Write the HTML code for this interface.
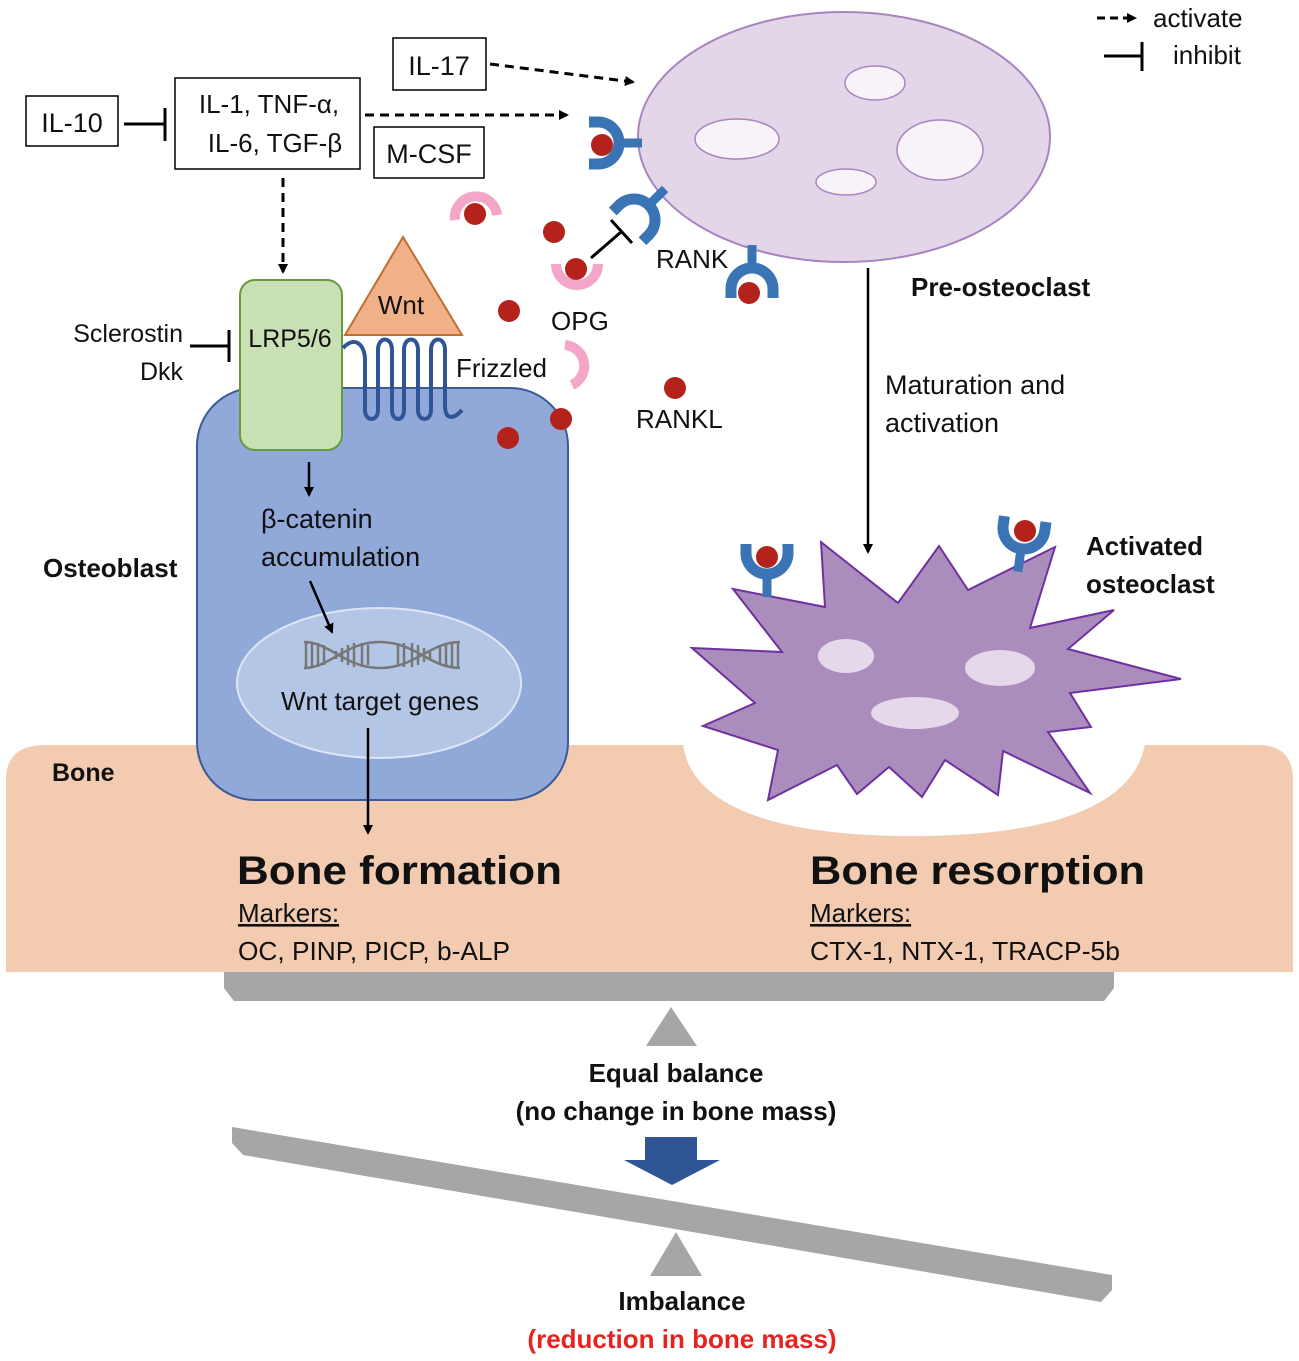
<!DOCTYPE html>
<html><head><meta charset="utf-8"><style>
html,body{margin:0;padding:0;background:#fff;}
svg{display:block;}
text{font-family:"Liberation Sans",sans-serif;fill:#111;}
</style></head><body>
<svg width="1299" height="1361" viewBox="0 0 1299 1361" xmlns="http://www.w3.org/2000/svg">
<defs>
<marker id="ah" markerWidth="10" markerHeight="10" refX="8" refY="5" orient="auto" markerUnits="userSpaceOnUse">
<path d="M0,0 L10,5 L0,10 z" fill="#000"/></marker>
<g id="rec">
<path d="M-21,-9 L-21,0 A21,21 0 0 0 21,0 L21,-9" fill="none" stroke="#3b74b5" stroke-width="11"/>
<line x1="0" y1="20" x2="0" y2="44" stroke="#3b74b5" stroke-width="9"/>
</g>
</defs>

<!-- Bone -->
<path d="M6,972 L6,780 Q6,745 45,745 L1258,745 Q1293,745 1293,780 L1293,972 Z" fill="#f2cbb0"/>
<path d="M683,744 C690,800 760,836 912,836 C1065,836 1135,800 1145,744 Z" fill="#fff"/>

<!-- Osteoblast -->
<rect x="197" y="388" width="371" height="412" rx="58" fill="#91a9d8" stroke="#3a5a9a" stroke-width="2"/>
<ellipse cx="379" cy="683" rx="142" ry="75" fill="#b4c6e6" stroke="#dde6f4" stroke-width="2"/>
<!-- DNA -->
<g stroke="#777" stroke-width="2.5" fill="none">
<path d="M304,642 C330,642 345,668 380,668 C415,668 430,642 460,642"/>
<path d="M304,668 C330,668 345,642 380,642 C415,642 430,668 460,668"/>
<path d="M306,642v26M312,642v26M318,643v24M324,645v20M336,651v8M342,648v14M348,645v20M354,643v24M412,643v24M418,645v20M424,648v14M430,651v8M440,645v20M446,643v24M452,642v26M458,642v26M362,643v24M368,645v20M398,645v20M404,643v24"/>
</g>

<!-- LRP -->
<rect x="240" y="280" width="102" height="170" rx="15" fill="#c9e0b4" stroke="#6a9a40" stroke-width="2"/>
<!-- Wnt -->
<polygon points="403,237 345,335 462,335" fill="#f0b088" stroke="#c07030" stroke-width="2"/>
<!-- Frizzled -->
<path d="M343,348 C355,335 365,345 365,360 L365,410 C365,422 378,422 378,410 L378,350 C378,336 392,336 392,350 L392,410 C392,422 404,422 404,410 L404,350 C404,336 418,336 418,350 L418,410 C418,422 431,422 431,410 L431,350 C431,336 445,336 445,350 L445,405 C445,422 455,418 462,410" fill="none" stroke="#2f5597" stroke-width="4"/>

<!-- Pre-osteoclast -->
<ellipse cx="844" cy="137" rx="206" ry="125" fill="#e2d6e8" stroke="#a884c0" stroke-width="2"/>
<g fill="#f7f3f8" stroke="#a884c0" stroke-width="1.5">
<ellipse cx="875" cy="83" rx="30" ry="17"/>
<ellipse cx="737" cy="139" rx="42" ry="20"/>
<ellipse cx="940" cy="150" rx="43" ry="30"/>
<ellipse cx="846" cy="182" rx="30" ry="13"/>
</g>

<!-- Activated osteoclast -->
<polygon points="733,589 825,607 821,542 898,603 939,546 968,590 1055,547 1030,628 1114,610 1068,649 1181,679 1070,693 1091,727 1048,732 1090,793 1003,751 998,795 945,760 922,797 889,767 857,794 837,765 768,800 778,750 703,726 755,703 692,648 782,652" fill="#aa8dbd" stroke="#7030a0" stroke-width="2"/>
<g fill="#e4d8ea">
<ellipse cx="846" cy="656" rx="28" ry="17"/>
<ellipse cx="1000" cy="668" rx="35" ry="18"/>
<ellipse cx="915" cy="713" rx="44" ry="16"/>
</g>

<!-- receptors -->
<g transform="translate(598,143) rotate(-90)"><use href="#rec"/></g>
<circle cx="602" cy="145" r="11" fill="#b3221b"/>
<g transform="translate(634,220) rotate(-135)"><use href="#rec"/></g>
<g transform="translate(752,289) rotate(180)"><use href="#rec"/></g>
<circle cx="749" cy="293" r="11" fill="#b3221b"/>
<g transform="translate(767,553)"><use href="#rec"/></g>
<circle cx="767" cy="557" r="11" fill="#b3221b"/>
<g transform="translate(1024,528) rotate(8)"><use href="#rec"/></g>
<circle cx="1025" cy="531" r="11" fill="#b3221b"/>

<!-- OPG pinks -->
<g fill="none" stroke="#f4a6c8" stroke-width="10">
<path d="M455,220 A21,21 0 0 1 497,215"/>
<path d="M556,264 A21,21 0 0 0 598,264"/>
<path d="M565,345 A21,21 0 0 1 572,385"/>
</g>
<g fill="#b3221b">
<circle cx="475" cy="214" r="11"/>
<circle cx="554" cy="232" r="11"/>
<circle cx="576" cy="269" r="11"/>
<circle cx="509" cy="311" r="11"/>
<circle cx="675" cy="388" r="11"/>
<circle cx="561" cy="419" r="11"/>
<circle cx="508" cy="438" r="11"/>
</g>

<!-- inhibit OPG -> RANK -->
<line x1="591" y1="258" x2="621" y2="232" stroke="#000" stroke-width="3"/>
<line x1="611" y1="220" x2="632" y2="243" stroke="#000" stroke-width="3"/>

<!-- Boxes -->
<g fill="#fff" stroke="#000" stroke-width="1.5">
<rect x="26" y="96" width="92" height="50"/>
<rect x="175" y="78" width="185" height="91"/>
<rect x="393" y="38" width="93" height="52"/>
<rect x="374" y="127" width="110" height="51"/>
</g>
<text x="72" y="132" font-size="27" text-anchor="middle">IL-10</text>
<text x="269" y="113" font-size="26" text-anchor="middle">IL-1, TNF-α,</text>
<text x="275" y="152" font-size="26" text-anchor="middle">IL-6, TGF-β</text>
<text x="439" y="75" font-size="27" text-anchor="middle">IL-17</text>
<text x="429" y="163" font-size="27" text-anchor="middle">M-CSF</text>

<!-- inhibit IL-10 -->
<line x1="124" y1="124" x2="164" y2="124" stroke="#000" stroke-width="3"/>
<line x1="165" y1="108" x2="165" y2="141" stroke="#000" stroke-width="3"/>
<!-- dashed arrows -->
<g stroke="#000" stroke-width="3" stroke-dasharray="9,6" fill="none" marker-end="url(#ah)">
<line x1="365" y1="115" x2="567" y2="115"/>
<line x1="490" y1="64" x2="633" y2="82"/>
<line x1="283" y1="178" x2="283" y2="272"/>
</g>

<!-- Sclerostin inhibit -->
<line x1="190" y1="346" x2="228" y2="346" stroke="#000" stroke-width="3"/>
<line x1="229" y1="330" x2="229" y2="362" stroke="#000" stroke-width="3"/>

<!-- solid arrows -->
<g stroke="#000" stroke-width="2.5" marker-end="url(#ah)">
<line x1="309" y1="462" x2="309" y2="495"/>
<line x1="310" y1="581" x2="332" y2="632"/>
<line x1="368" y1="728" x2="368" y2="833"/>
<line x1="868" y1="268" x2="868" y2="552"/>
</g>

<!-- legend -->
<g stroke="#000" stroke-width="3">
<line x1="1097" y1="18" x2="1135" y2="18" stroke-dasharray="8,5" marker-end="url(#ah)"/>
<line x1="1104" y1="56" x2="1141" y2="56"/>
<line x1="1142" y1="42" x2="1142" y2="71"/>
</g>
<text x="1153" y="27" font-size="26">activate</text>
<text x="1173" y="64" font-size="26">inhibit</text>

<!-- labels -->
<text x="401" y="314" font-size="26" text-anchor="middle">Wnt</text>
<text x="290" y="347" font-size="25" text-anchor="middle">LRP5/6</text>
<text x="183" y="342" font-size="25" text-anchor="end">Sclerostin</text>
<text x="183" y="380" font-size="25" text-anchor="end">Dkk</text>
<text x="456" y="377" font-size="26">Frizzled</text>
<text x="551" y="330" font-size="26">OPG</text>
<text x="656" y="268" font-size="26">RANK</text>
<text x="636" y="428" font-size="26">RANKL</text>
<text x="911" y="296" font-size="26" font-weight="bold">Pre-osteoclast</text>
<text x="885" y="394" font-size="27">Maturation and</text>
<text x="885" y="432" font-size="27">activation</text>
<text x="1086" y="555" font-size="26" font-weight="bold">Activated</text>
<text x="1086" y="593" font-size="26" font-weight="bold">osteoclast</text>
<text x="43" y="577" font-size="26" font-weight="bold">Osteoblast</text>
<text x="261" y="528" font-size="27">β-catenin</text>
<text x="261" y="566" font-size="27">accumulation</text>
<text x="380" y="710" font-size="26" text-anchor="middle">Wnt target genes</text>
<text x="52" y="781" font-size="25" font-weight="bold">Bone</text>

<text x="237" y="884" font-size="40" font-weight="bold" textLength="325" lengthAdjust="spacingAndGlyphs">Bone formation</text>
<text x="238" y="922" font-size="26" text-decoration="underline">Markers:</text>
<text x="238" y="960" font-size="26" textLength="272" lengthAdjust="spacingAndGlyphs">OC, PINP, PICP, b-ALP</text>
<text x="810" y="884" font-size="40" font-weight="bold" textLength="335" lengthAdjust="spacingAndGlyphs">Bone resorption</text>
<text x="810" y="922" font-size="26" text-decoration="underline">Markers:</text>
<text x="810" y="960" font-size="26" textLength="310" lengthAdjust="spacingAndGlyphs">CTX-1, NTX-1, TRACP-5b</text>

<!-- seesaw top -->
<polygon points="224,972 1114,972 1114,988 1104,1001 234,1001 224,988" fill="#a6a6a6"/>
<polygon points="671,1007 646,1046 697,1046" fill="#a6a6a6"/>
<text x="676" y="1082" font-size="26" font-weight="bold" text-anchor="middle">Equal balance</text>
<text x="676" y="1120" font-size="26" font-weight="bold" text-anchor="middle">(no change in bone mass)</text>
<!-- blue arrow -->
<polygon points="645,1137 697,1137 697,1160 720,1160 672,1185 624,1160 645,1160" fill="#2f5597"/>
<!-- tilted bar -->
<polygon points="232,1127 1112,1275 1112,1290 1101,1302 243,1155 232,1143" fill="#a6a6a6"/>
<polygon points="676,1232 650,1276 702,1276" fill="#a6a6a6"/>
<text x="682" y="1310" font-size="26" font-weight="bold" text-anchor="middle">Imbalance</text>
<text x="682" y="1348" font-size="26" font-weight="bold" text-anchor="middle" style="fill:#e8231f">(reduction in bone mass)</text>
</svg>
</body></html>
